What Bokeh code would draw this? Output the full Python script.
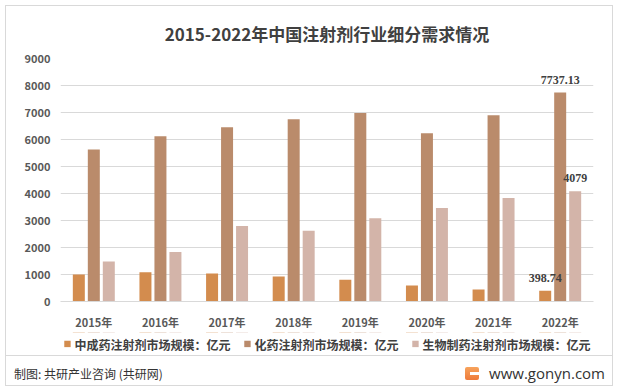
from bokeh.plotting import figure
from bokeh.models import (ColumnDataSource, FactorRange, Range1d, FixedTicker, LabelSet,
                          Legend, Div)
from bokeh.transform import dodge
from bokeh.layouts import column
from bokeh.embed import file_html
from bokeh.resources import INLINE

# ---- data ----
years = ["2015年", "2016年", "2017年", "2018年", "2019年", "2020年", "2021年", "2022年"]
tcm_injection = [1000, 1080, 1040, 930, 810, 590, 440, 398.74]
chem_injection = [5630, 6120, 6450, 6750, 6980, 6230, 6900, 7737.13]
bio_injection = [1480, 1830, 2800, 2620, 3080, 3460, 3830, 4079]
series_names = ["中成药注射剂市场规模：亿元", "化药注射剂市场规模：亿元", "生物制药注射剂市场规模：亿元"]
y_ticks = [0, 1000, 2000, 3000, 4000, 5000, 6000, 7000, 8000, 9000]
title_text = "2015-2022年中国注射剂行业细分需求情况"
source_text = "制图: 共研产业咨询 (共研网)"
site_text = "www.gonyn.com"

colors = ["#D38C4E", "#BA8B6B", "#D3B4A9"]
FONT = "Noto Sans CJK SC"

src = ColumnDataSource(dict(years=years, a=tcm_injection, b=chem_injection, c=bio_injection))
x_range = FactorRange(*years)

p = figure(x_range=x_range, y_range=Range1d(0, 9000),
           frame_width=533, frame_height=243, output_backend="svg", toolbar_location=None,
           min_border_left=60, min_border_right=25, min_border_top=58, min_border_bottom=30)
p.border_fill_color = None
p.background_fill_color = None
p.title.text = title_text
p.title.align = "center"
p.title.text_font = FONT
p.title.text_font_size = "17px"
p.title.text_font_style = "bold"
p.title.text_color = "#404040"
p.title.standoff = 26

offsets = [-0.225, 0.0, 0.225]
cols = ["a", "b", "c"]
for off, col, c in zip(offsets, cols, colors):
    p.vbar(x=dodge("years", off, range=x_range), top=col, width=0.18, source=src,
           fill_color=c, line_color=None)

# data labels for the last year
last = len(years) - 1
last_vals = [tcm_injection[last], chem_injection[last], bio_injection[last]]
for off, val in zip(offsets, last_vals):
    s = ColumnDataSource(dict(x=[years[last]], y=[val], text=[f"{val:g}"]))
    ls = LabelSet(x=dodge("x", off, range=x_range), y="y", text="text", source=s,
                  text_align="center", text_baseline="middle", y_offset=13,
                  text_font=FONT, text_font_size="12px", text_font_style="bold",
                  text_color="#404040")
    p.add_layout(ls)

p.ygrid.grid_line_color = "#d9d9d9"
p.xgrid.grid_line_color = None
p.outline_line_color = None

p.yaxis.ticker = FixedTicker(ticks=y_ticks)
p.yaxis.axis_line_color = None
p.yaxis.major_tick_line_color = None
p.yaxis.minor_tick_line_color = None
p.yaxis.major_tick_out = 0
p.yaxis.major_label_standoff = 10

p.xaxis.axis_line_color = "#d9d9d9"
p.xaxis.major_tick_line_color = None
p.xaxis.major_tick_out = 0
p.xaxis.major_label_standoff = 12

for ax in (p.xaxis, p.yaxis):
    ax.major_label_text_font = FONT
    ax.major_label_text_font_size = "11px"
    ax.major_label_text_font_style = "bold"
    ax.major_label_text_color = "#595959"

# legend strip: same series drawn on a hidden y-range, legend shown in its frame
pl = figure(x_range=x_range, y_range=Range1d(-2, -1), width=618, height=23,
            output_backend="svg", toolbar_location=None, min_border=0,
            x_axis_type=None, y_axis_type=None)
pl.border_fill_color = None
pl.background_fill_color = None
pl.outline_line_color = None
leg_renderers = []
for off, col, c in zip(offsets, cols, colors):
    r = pl.vbar(x=dodge("years", off, range=x_range), top=col, width=0.18, source=src,
                fill_color=c, line_color=None)
    leg_renderers.append(r)

legend = Legend(items=[(n, [r]) for n, r in zip(series_names, leg_renderers)],
                orientation="horizontal", location="center",
                label_text_font=FONT, label_text_font_size="12px",
                label_text_color="#404040", label_text_font_style="bold",
                glyph_width=8, glyph_height=8, label_standoff=4, spacing=12,
                label_height=14, padding=2, margin=0,
                border_line_alpha=0, background_fill_alpha=0)
pl.add_layout(legend)

footer_html = (
    f'<div style="margin:0 6px;width:606px;height:36px;border-top:1px solid #d9d9d9;'
    f'box-sizing:border-box;display:flex;justify-content:space-between;align-items:center;'
    f'padding:0 7px 0 8px;font-family:\'{FONT}\';color:#333;">'
    f'<span style="font-size:12px;">{source_text}</span>'
    f'<span style="display:flex;align-items:center;font-family:\'Open Sans\';font-size:15px;color:#333;">'
    f'<span style="display:inline-block;width:14px;height:13px;margin-right:10px;border-radius:2px;'
    f'background:linear-gradient(#F7A35C,#EE7A3A);position:relative;">'
    f'<span style="position:absolute;left:5px;top:5px;width:9px;height:3px;background:#fff;"></span>'
    f'</span>{site_text}</span></div>'
)
footer = Div(text=footer_html, width=618, height=36, margin=0)

layout = column(p, pl, footer, styles={"outline": "1px solid #d9d9d9", "outline-offset": "-6px"})

open("out.html", "w").write(file_html(layout, INLINE))
